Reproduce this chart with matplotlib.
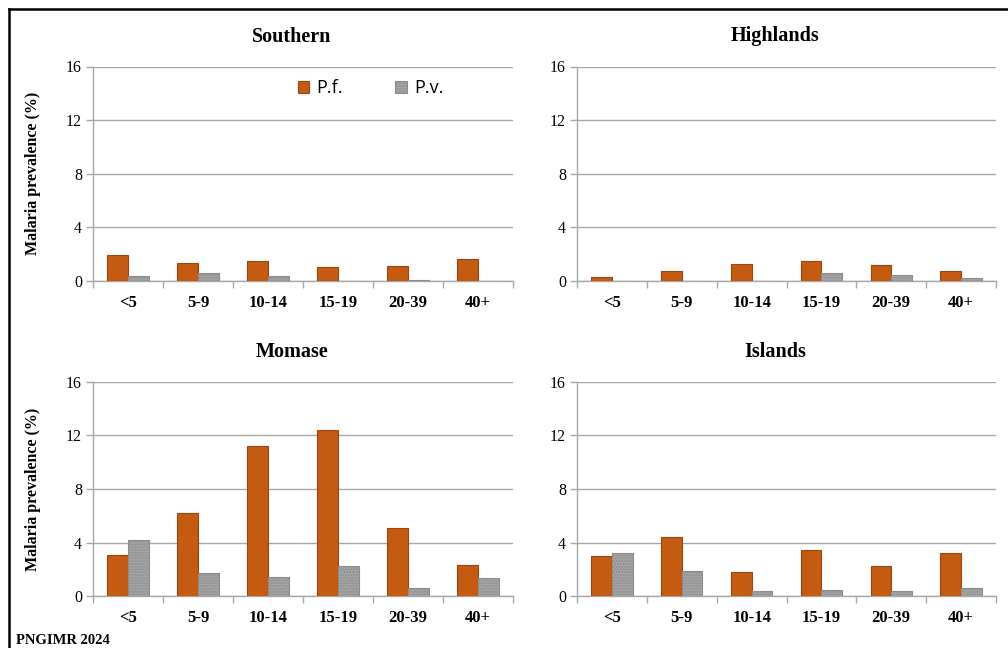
import numpy as np
import matplotlib
matplotlib.use("Agg")
from matplotlib import pyplot as plt
from matplotlib.lines import Line2D

# age groups and prevalence (%) per region
groups = ["<5", "5-9", "10-14", "15-19", "20-39", "40+"]

southern_pf = [1.92, 1.34, 1.51, 1.02, 1.10, 1.66]
southern_pv = [0.37, 0.60, 0.37, 0.0, 0.10, 0.0]
highlands_pf = [0.30, 0.77, 1.27, 1.51, 1.17, 0.77]
highlands_pv = [0.0, 0.0, 0.0, 0.60, 0.45, 0.22]
momase_pf = [3.08, 6.24, 11.23, 12.37, 5.12, 2.31]
momase_pv = [4.17, 1.76, 1.42, 2.24, 0.60, 1.34]
islands_pf = [2.98, 4.45, 1.84, 3.45, 2.24, 3.20]
islands_pv = [3.20, 1.91, 0.37, 0.45, 0.37, 0.60]

yticks = [0, 4, 8, 12, 16]

serif = "Liberation Serif"
pf_col = "#c55a11"
pf_edge = "#9c4610"
pv_col = "#a6a6a6"
pv_edge = "#8c8c8c"
grid_col = "#a8a8a8"

W, H = 1008, 648
fig = plt.figure(figsize=(W / 100, H / 100), dpi=100)

panels = [
    ("Southern", southern_pf, southern_pv, (93, 513, 66.5, 281)),
    ("Highlands", highlands_pf, highlands_pv, (577, 996, 66.5, 281)),
    ("Momase", momase_pf, momase_pv, (93, 513, 381.7, 596.3)),
    ("Islands", islands_pf, islands_pv, (577, 996, 381.7, 596.3)),
]
title_y = {"Southern": 36.5, "Highlands": 36.5, "Momase": 352, "Islands": 352}

x = np.arange(len(groups))
bw = 0.295

for name, pf, pv, (l, r, t, b) in panels:
    ax = fig.add_axes([l / W, 1 - b / H, (r - l) / W, (b - t) / H])
    ax.bar(x - bw / 2, pf, bw, color=pf_col, edgecolor=pf_edge, linewidth=0.8, zorder=3, label="P.f.")
    ax.bar(x + bw / 2, pv, bw, color=pv_col, edgecolor=pv_edge, linewidth=0.8, zorder=3,
           hatch="......", label="P.v.")
    ax.set_xlim(-0.5, len(groups) - 0.5)
    ax.set_ylim(0, 16)
    ax.set_yticks(yticks)
    ax.set_yticklabels([str(v) for v in yticks], fontfamily=serif, fontsize=11.5)
    ax.yaxis.grid(True, color=grid_col, linewidth=1.0, zorder=0)
    ax.set_axisbelow(True)
    ax.set_xticks(np.arange(len(groups) + 1) - 0.5)
    ax.set_xticklabels([])
    ax.set_xticks(x, minor=True)
    ax.set_xticklabels(groups, minor=True, fontfamily=serif, fontsize=12, fontweight="bold")
    ax.tick_params(axis="x", which="minor", length=0, pad=10)
    ax.tick_params(axis="x", which="major", length=5, color=grid_col, width=1)
    ax.tick_params(axis="y", length=5, color=grid_col, width=1, pad=3)
    for s in ["top", "right"]:
        ax.spines[s].set_visible(False)
    for s in ["left", "bottom"]:
        ax.spines[s].set_color(grid_col)
        ax.spines[s].set_linewidth(1.0)
    fig.text((l + r) / 2 / W - 11 / W, 1 - title_y[name] / H, name, ha="center", va="center",
             fontfamily=serif, fontsize=14.5, fontweight="bold")
    if l < 500:
        ax.set_ylabel("Malaria prevalence (%)", fontfamily=serif, fontsize=11.5, fontweight="bold")
        ax.yaxis.set_label_coords(-(l - 41) / (r - l), 0.5)
    if name == "Southern":
        ax.legend(loc="center left", bbox_to_anchor=(0.487, 0.90), ncol=2, frameon=False,
                  prop={"family": "Open Sans", "size": 13}, handlelength=0.65, handleheight=0.65,
                  handletextpad=0.4, columnspacing=2.9, borderaxespad=0, borderpad=0)

fig.text(16 / W, 1 - 640 / H, "PNGIMR 2024", ha="left", va="center",
         fontfamily=serif, fontsize=10.5, fontweight="bold")

# frame lines at left and top
fig.add_artist(Line2D([9 / W, 9 / W], [0, 1 - 8.5 / H], color="black", linewidth=1.8))
fig.add_artist(Line2D([9 / W, 1], [1 - 8.5 / H, 1 - 8.5 / H], color="black", linewidth=1.8))

fig.savefig("out.png", dpi=100)
